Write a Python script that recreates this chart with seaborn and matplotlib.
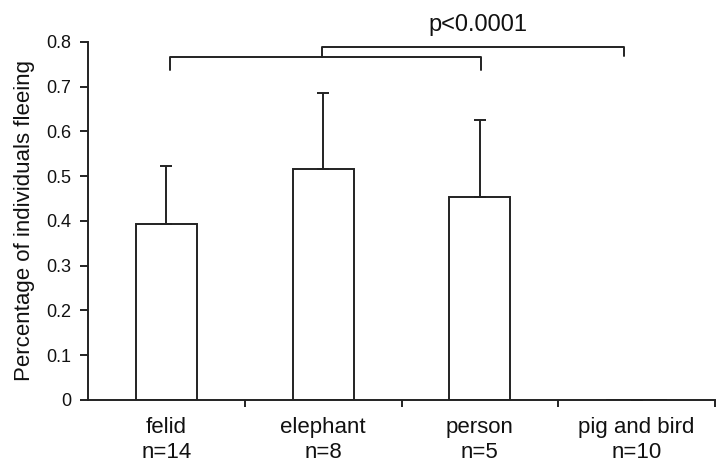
import matplotlib
matplotlib.use("Agg")
import matplotlib.pyplot as plt
import seaborn as sns
import numpy as np
import pandas as pd

categories = ["felid", "elephant", "person", "pig and bird"]
sample_sizes = ["n=14", "n=8", "n=5", "n=10"]
means = [0.393, 0.516, 0.454, 0.0]
upper_err = [0.130, 0.170, 0.172, np.nan]
y_ticks = [0, 0.1, 0.2, 0.3, 0.4, 0.5, 0.6, 0.7, 0.8]
y_tick_labels = ["0", "0.1", "0.2", "0.3", "0.4", "0.5", "0.6", "0.7", "0.8"]
p_text = "p<0.0001"

sns.set_theme(style="white")
plt.rcParams["font.family"] = ["Liberation Sans", "DejaVu Sans"]

df = pd.DataFrame({"cat": categories, "mean": means})

fig = plt.figure(figsize=(7.18, 4.68), dpi=100)
ax = fig.add_axes([0.1226, 0.1453, 0.8732, 0.765])

lc = "#222222"
lw = 1.4
sns.barplot(data=df, x="cat", y="mean", ax=ax, color="white", edgecolor=lc,
            linewidth=lw, width=0.39, errorbar=None, saturation=1)

xpos = np.arange(len(categories))
err = np.array(upper_err)
ax.errorbar(xpos, means, yerr=[np.zeros_like(err), err], fmt="none",
            ecolor=lc, elinewidth=lw, capsize=4, capthick=lw)

ax.set_xlim(-0.5, 3.5)
ax.set_ylim(0, 0.8)
ax.set_yticks(y_ticks)
ax.set_yticklabels(y_tick_labels, fontsize=13, color="#111111")
ax.set_xticks(xpos)
ax.set_xticklabels([f"{c}\n{n}" for c, n in zip(categories, sample_sizes)],
                   fontsize=16, linespacing=1.3, color="#111111")
ax.set_xticks([0.5, 1.5, 2.5, 3.5], minor=True)
ax.tick_params(axis="x", which="major", length=0, pad=12)
ax.tick_params(axis="x", which="minor", length=5, width=lw, color=lc, direction="out", bottom=True)
ax.tick_params(axis="y", length=6, width=lw, color=lc, direction="out", left=True, pad=6)
ax.set_xlabel("")
ax.set_ylabel("Percentage of individuals fleeing", fontsize=16, labelpad=8, color="#111111")

for s in ["top", "right"]:
    ax.spines[s].set_visible(False)
for s in ["left", "bottom"]:
    ax.spines[s].set_color(lc)
    ax.spines[s].set_linewidth(lw)

# significance brackets
ax.plot([0.02, 0.02, 2.01, 2.01], [0.737, 0.766, 0.766, 0.737], color=lc, lw=lw, clip_on=False)
ax.plot([0.99, 0.99, 2.92, 2.92], [0.766, 0.789, 0.789, 0.768], color=lc, lw=lw, clip_on=False)
ax.text(1.99, 0.838, p_text, ha="center", va="center", fontsize=17, color="#111111", clip_on=False)

fig.savefig("out.png", dpi=100)
